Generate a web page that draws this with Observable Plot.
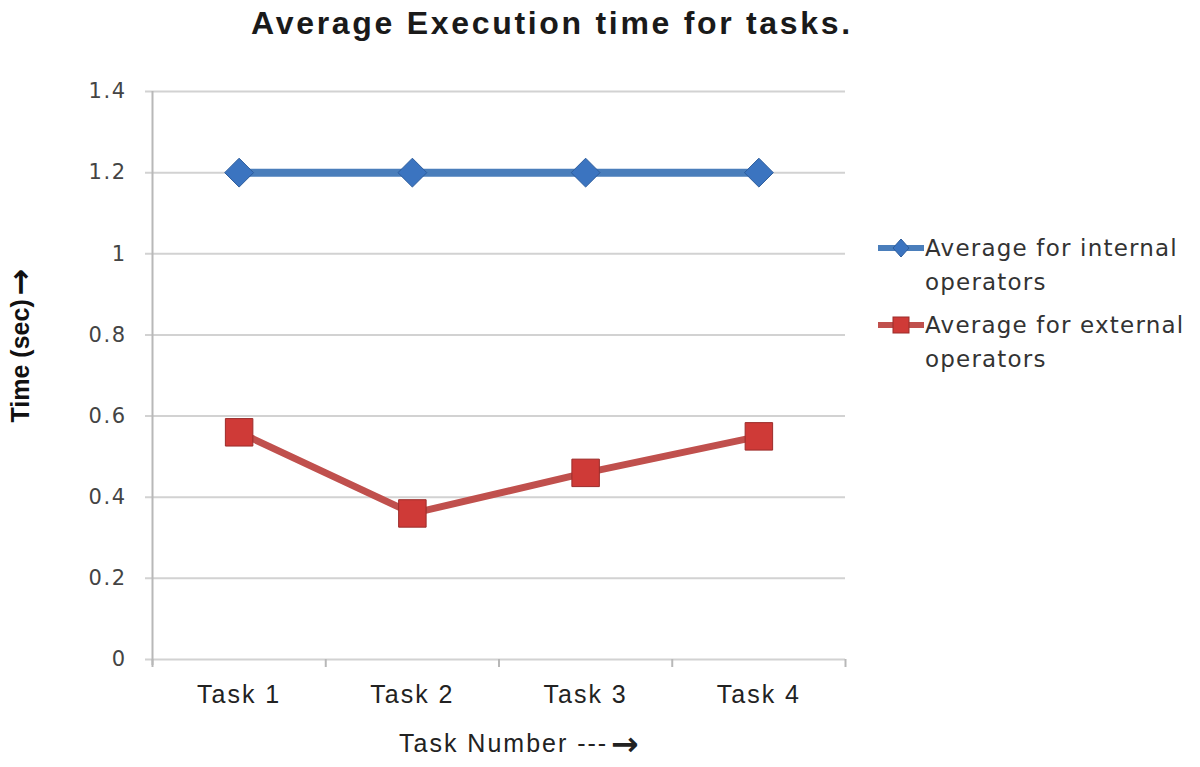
<!DOCTYPE html>
<html>
<head>
<meta charset="utf-8">
<script src="https://cdn.jsdelivr.net/npm/d3@7"></script>
<script src="https://cdn.jsdelivr.net/npm/@observablehq/plot@0.6"></script>
<style>
  html, body { margin: 0; padding: 0; background: #fff; }
  #wrap { position: relative; width: 1200px; height: 767px; overflow: hidden; }
  #title { position: absolute; left: 0; width: 1104px; top: 5px; text-align: center;
           font: bold 32px "Liberation Sans", Arial, sans-serif; color: #1a1a1a; letter-spacing: 2.7px; }
  #chart { position: absolute; left: 0; top: 0; }
  #chart svg g[aria-label="x-axis tick label"] text { letter-spacing: 2px; }
  #chart svg g[aria-label="y-axis tick label"] text { letter-spacing: 1.5px; }
  #legend { position: absolute; left: 878px; top: 231px; font: 23px "DejaVu Sans", sans-serif;
            color: #333; letter-spacing: 1.2px; white-space: nowrap; }
  .item { position: relative; padding-left: 47px; line-height: 34px; margin-bottom: 9px; }
  .item svg { position: absolute; left: 0; top: 5px; }
</style>
</head>
<body>
<div id="wrap">
  <div id="chart"></div>
  <div id="title">Average Execution time for tasks.</div>
  <div id="legend"></div>
</div>
<script>
// ---- data ----
const tasks = ["Task 1", "Task 2", "Task 3", "Task 4"];
const taskIndex = [1, 2, 3, 4];
const internalTimes = [1.2, 1.2, 1.2, 1.2];
const externalTimes = [0.56, 0.36, 0.46, 0.55];
const yTicks = [0, 0.2, 0.4, 0.6, 0.8, 1, 1.2, 1.4];
const taskBounds = [0.5, 1.5, 2.5, 3.5, 4.5];
const seriesNames = ["Average for internal operators", "Average for external operators"];
const title = "Average Execution time for tasks.";
const xLabel = "Task Number ---";
const yLabel = "Time (sec)";
const arrow = "\u2192";

const blue = "#4a7ebb", blueMark = "#3b74c0", blueEdge = "#2c5c9c";
const red = "#c0504d", redMark = "#cf3a37", redEdge = "#9b2c2a";

const internalData = taskIndex.map((t, i) => ({task: t, value: internalTimes[i]}));
const externalData = taskIndex.map((t, i) => ({task: t, value: externalTimes[i]}));

const chart = Plot.plot({
  width: 1200,
  height: 767,
  marginTop: 91,
  marginBottom: 108,
  marginLeft: 152,
  marginRight: 355,
  x: {domain: [0.5, 4.5]},
  y: {domain: [0, 1.4]},
  style: {background: "transparent"},
  marks: [
    Plot.ruleY(yTicks, {y: d => d, stroke: "#d2d2d2", strokeWidth: 2, insetLeft: -7}),
    Plot.ruleX([0.5], {x: d => d, stroke: "#b8b8b8", strokeWidth: 2, insetBottom: -6}),
    Plot.ruleX(taskBounds, {x: d => d, y1: 0, y2: 0, insetBottom: -8, stroke: "#b8b8b8", strokeWidth: 2}),
    Plot.axisY(yTicks, {tickSize: 0, tickPadding: 26, label: null,
      tickFormat: d => String(Math.round(d * 10) / 10),
      fontSize: 21, fontFamily: "DejaVu Sans", fill: "#444"}),
    Plot.axisX(taskIndex, {tickSize: 0, tickPadding: 26, label: null,
      tickFormat: d => tasks[d - 1], fontSize: 25, fontFamily: "Liberation Sans", fill: "#222"}),
    // x axis title
    Plot.text([xLabel], {frameAnchor: "bottom", text: d => d, textAnchor: "start", lineAnchor: "bottom",
      dx: -100, dy: 92, fontSize: 25, fontFamily: "Liberation Sans", fill: "#222"}),
    Plot.text([arrow], {frameAnchor: "bottom", text: d => d, textAnchor: "start", lineAnchor: "bottom",
      dx: 112, dy: 95, fontSize: 33, fontWeight: "bold", fontFamily: "DejaVu Sans", fill: "#222"}),
    // y axis title
    Plot.text([yLabel], {frameAnchor: "left", text: d => d, rotate: -90, textAnchor: "start", lineAnchor: "middle",
      dx: -132, dy: 47, fontSize: 25, fontWeight: "bold", fontFamily: "Liberation Sans", fill: "#111"}),
    Plot.text([arrow], {frameAnchor: "left", text: d => d, rotate: -90, textAnchor: "start", lineAnchor: "middle",
      dx: -132, dy: -80, fontSize: 32, fontWeight: "bold", fontFamily: "DejaVu Sans", fill: "#111"}),
    Plot.line(internalData, {x: "task", y: "value", stroke: blue, strokeWidth: 8}),
    Plot.dot(internalData, {x: "task", y: "value", symbol: "diamond2", r: 13,
      fill: blueMark, stroke: blueEdge, strokeWidth: 1}),
    Plot.line(externalData, {x: "task", y: "value", stroke: red, strokeWidth: 7}),
    Plot.dot(externalData, {x: "task", y: "value", symbol: "square", r: 15.5,
      fill: redMark, stroke: redEdge, strokeWidth: 1})
  ]
});
d3.select(chart).selectAll("text")
  .filter(function() { return this.textContent === xLabel; })
  .style("letter-spacing", "2px");
document.getElementById("chart").appendChild(chart);

// legend
const legend = d3.select("#legend");
const legendStyles = [
  {name: seriesNames[0], line: blue, fill: blueMark, edge: blueEdge, shape: "diamond"},
  {name: seriesNames[1], line: red, fill: redMark, edge: redEdge, shape: "square"}
];
legendStyles.forEach(s => {
  const words = s.name.split(" ");
  const item = legend.append("div").attr("class", "item");
  const svg = item.append("svg").attr("width", 47).attr("height", 24);
  svg.append("line").attr("x1", 0).attr("x2", 46).attr("y1", 12).attr("y2", 12)
    .attr("stroke", s.line).attr("stroke-width", 6);
  if (s.shape === "diamond") {
    svg.append("path").attr("d", "M23,3L31,12L23,21L15,12Z").attr("fill", s.fill).attr("stroke", s.edge);
  } else {
    svg.append("rect").attr("x", 15).attr("y", 4).attr("width", 16).attr("height", 16)
      .attr("fill", s.fill).attr("stroke", s.edge);
  }
  item.append("span").text(words.slice(0, 3).join(" "));
  item.append("br");
  item.append("span").text(words.slice(3).join(" "));
});
</script>
</body>
</html>
